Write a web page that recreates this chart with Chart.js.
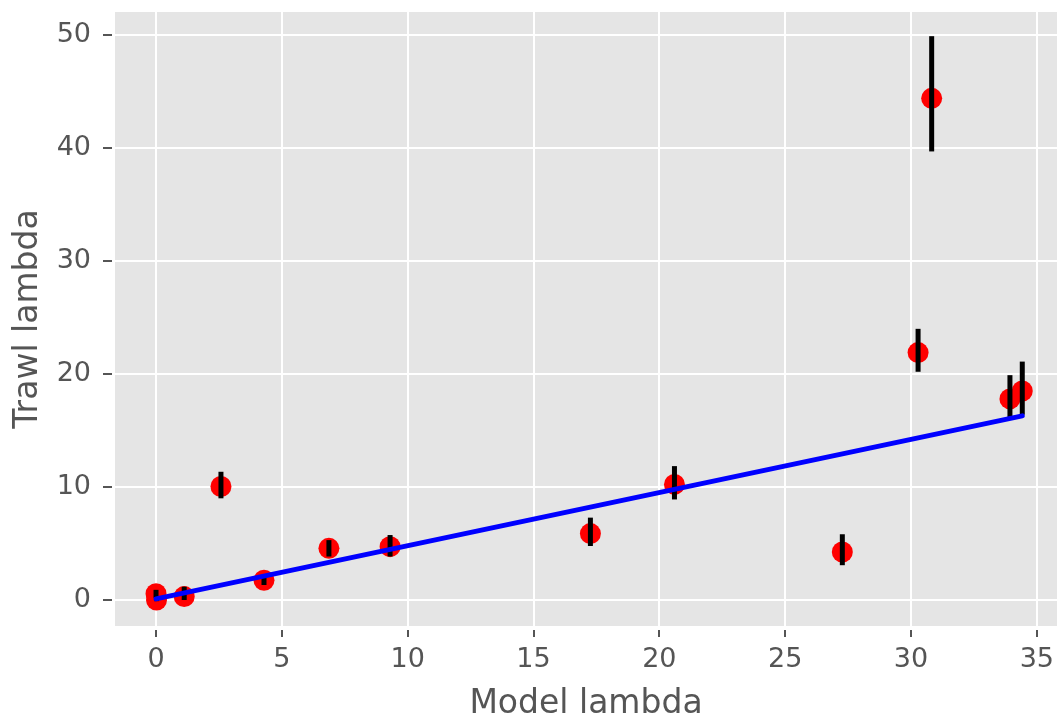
<!DOCTYPE html>
<html>
<head>
<meta charset="utf-8">
<script src="https://cdn.jsdelivr.net/npm/chart.js@4/dist/chart.umd.min.js"></script>
<style>
  html, body { margin: 0; padding: 0; background: #ffffff; }
  #wrap { width: 1057px; height: 718px; }
</style>
</head>
<body>
<div id="wrap"><canvas id="c" width="1057" height="718"></canvas></div>
<script>
// ---- data ----
const modelLambda = [0.0, 0.02, 1.12, 2.58, 4.29, 6.87, 9.30, 17.26, 20.60, 27.27, 30.28, 30.82, 33.93, 34.42];
const trawlLambda = [0.55, 0.0, 0.30, 10.05, 1.75, 4.57, 4.72, 5.88, 10.23, 4.25, 21.9, 44.4, 17.8, 18.5];
const trawlLow    = [0.2, -0.1, 0.0, 9.0, 1.33, 3.85, 3.85, 4.78, 8.9, 3.08, 20.2, 39.7, 16.2, 16.4];
const trawlHigh   = [0.9, 0.1, 1.18, 11.35, 2.2, 5.3, 5.75, 7.29, 11.85, 5.82, 24.0, 49.9, 19.9, 21.1];
const fitX = [0.0, 34.42];
const fitY = [0.1, 16.3];
const xTicks = [0, 5, 10, 15, 20, 25, 30, 35];
const yTicks = [0, 10, 20, 30, 40, 50];

const TXT = '#555555';
const FONT = '"DejaVu Sans", sans-serif';

const pointsData = modelLambda.map((x, i) => ({x: x, y: trawlLambda[i]}));
const fitData = fitX.map((x, i) => ({x: x, y: fitY[i]}));

const bgPlugin = {
  id: 'bg',
  beforeDraw(chart) {
    const {ctx, chartArea: a} = chart;
    ctx.save();
    ctx.fillStyle = '#E5E5E5';
    ctx.fillRect(a.left, a.top, a.right - a.left, a.bottom - a.top);
    ctx.restore();
  }
};

const errPlugin = {
  id: 'errbars',
  afterDatasetDraw(chart, args) {
    if (args.index !== 1) return;
    const {ctx, scales} = chart;
    ctx.save();
    ctx.beginPath();
    ctx.rect(chart.chartArea.left, chart.chartArea.top, chart.chartArea.right - chart.chartArea.left, chart.chartArea.bottom - chart.chartArea.top);
    ctx.clip();
    ctx.strokeStyle = '#000000';
    ctx.lineWidth = 5;
    ctx.lineCap = 'butt';
    for (let i = 0; i < modelLambda.length; i++) {
      const px = scales.x.getPixelForValue(modelLambda[i]);
      const y1 = scales.y.getPixelForValue(trawlLow[i]);
      const y2 = scales.y.getPixelForValue(trawlHigh[i]);
      ctx.beginPath();
      ctx.moveTo(px, y1);
      ctx.lineTo(px, y2);
      ctx.stroke();
    }
    ctx.restore();
  }
};

new Chart(document.getElementById('c'), {
  type: 'scatter',
  data: {
    datasets: [
      {
        label: 'fit',
        data: fitData,
        showLine: true,
        borderColor: '#0000FF',
        borderWidth: 5,
        borderCapStyle: 'round',
        pointRadius: 0,
        fill: false,
        order: 0
      },
      {
        label: 'points',
        data: pointsData,
        backgroundColor: '#FF0000',
        borderWidth: 0,
        pointRadius: 10.5,
        pointHoverRadius: 10.5,
        order: 1
      }
    ]
  },
  options: {
    responsive: false,
    devicePixelRatio: 1,
    animation: false,
    events: [],
    layout: { autoPadding: false, padding: { top: 12, left: 0, right: 0, bottom: 0 } },
    plugins: { legend: { display: false }, tooltip: { enabled: false } },
    scales: {
      x: {
        type: 'linear',
        min: -1.63,
        max: 35.80,
        afterBuildTicks(s) { s.ticks = xTicks.map(v => ({value: v})); },
        afterFit(s) { s.height = 92; s.paddingLeft = 0; s.paddingRight = 0; },
        border: { display: false },
        grid: {
          color: '#FFFFFF',
          lineWidth: 2,
          drawTicks: true,
          tickLength: 11,
          tickColor: TXT,
          tickWidth: 2,
          tickBorderDash: [0, 4, 7, 100]
        },
        ticks: {
          includeBounds: false,
          color: TXT,
          padding: 7,
          maxRotation: 0,
          font: { family: FONT, size: 27 }
        },
        title: {
          display: true,
          text: 'Model lambda',
          color: TXT,
          font: { family: FONT, size: 33, lineHeight: 1 },
          padding: { top: 0, bottom: -3 }
        }
      },
      y: {
        type: 'linear',
        min: -2.30,
        max: 52.04,
        afterBuildTicks(s) { s.ticks = yTicks.map(v => ({value: v})); },
        afterFit(s) { s.width = 115; s.paddingTop = 0; s.paddingBottom = 0; },
        border: { display: false },
        grid: {
          color: '#FFFFFF',
          lineWidth: 2,
          drawTicks: true,
          tickLength: 12,
          tickColor: TXT,
          tickWidth: 2,
          tickBorderDash: [9, 100]
        },
        ticks: {
          includeBounds: false,
          color: TXT,
          padding: 12,
          font: { family: FONT, size: 27 }
        },
        title: {
          display: true,
          text: 'Trawl lambda',
          color: TXT,
          font: { family: FONT, size: 33, lineHeight: 1 },
          padding: { top: 12, bottom: 0 }
        }
      }
    }
  },
  plugins: [bgPlugin, errPlugin]
});
</script>
</body>
</html>
